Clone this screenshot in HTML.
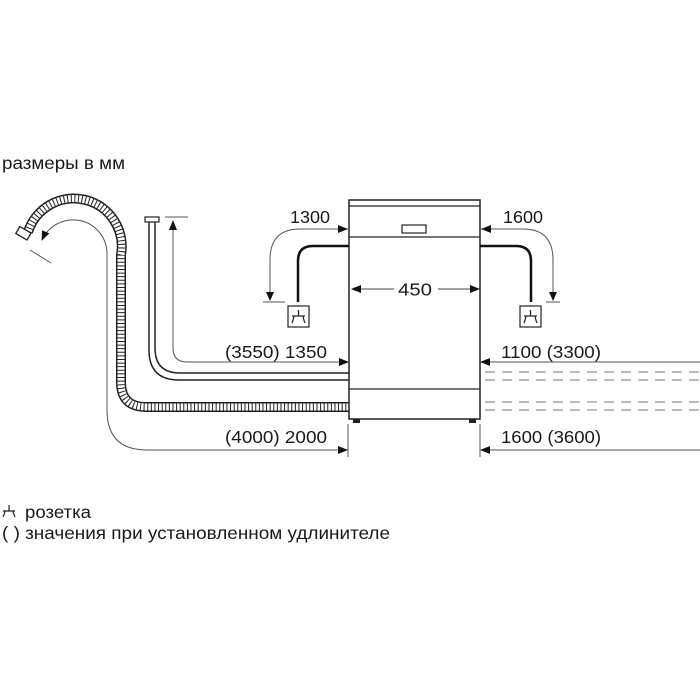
<!DOCTYPE html>
<html><head><meta charset="utf-8"><style>
html,body{margin:0;padding:0;background:#fff;}
svg{display:block;}
text{font-family:"Liberation Sans",Arial,sans-serif;fill:#1a1a1a;}
</style></head><body>
<svg width="700" height="700" viewBox="0 0 700 700" xmlns="http://www.w3.org/2000/svg">
<defs>
<marker id="ah" markerWidth="10" markerHeight="8" refX="9" refY="4" orient="auto" markerUnits="userSpaceOnUse">
<path d="M0,0 L10,4 L0,8 Z" fill="#111"/></marker>
</defs>
<text x="2" y="169" font-size="17.5" textLength="123" lengthAdjust="spacingAndGlyphs">размеры в мм</text>

<!-- drain hose corrugated -->
<g fill="none">
<path d="M28,232 A48,48 0 0 1 121,255 L121,382 Q121,407 146,407 L349,407" stroke="#222" stroke-width="10"/>
<path d="M28,232 A48,48 0 0 1 121,255 L121,382 Q121,407 146,407 L349,407" stroke="#fff" stroke-width="7"/>
<path d="M28,232 A48,48 0 0 1 121,255 L121,382 Q121,407 146,407 L349,407" stroke="#222" stroke-width="7" stroke-dasharray="1 2.6"/>
</g>
<rect x="17" y="229" width="13" height="8" fill="#fff" stroke="#222" stroke-width="1.3" transform="rotate(30 23 233)"/>
<!-- drain dimension -->
<path d="M348,450 L147,450 Q107,450 107,410 L107,252 A34,34 0 0 0 42,240" fill="none" stroke="#555" stroke-width="1" marker-end="url(#ah)"/>
<path d="M338,446 L348,450 L338,454 Z" fill="#111"/>
<line x1="30" y1="250" x2="51" y2="263" stroke="#555" stroke-width="1"/>

<!-- inlet hose -->
<rect x="145" y="217" width="14" height="5" fill="#fff" stroke="#222" stroke-width="1.2"/>
<path d="M149,222 L149,350 Q149,380 179,380 L349,380" fill="none" stroke="#222" stroke-width="1.5"/>
<path d="M155,222 L155,348 Q155,373 180,373 L349,373" fill="none" stroke="#222" stroke-width="1.5"/>
<path d="M173,229 L173,348 Q173,362 187,362 L348,362" fill="none" stroke="#555" stroke-width="1" marker-end="url(#ah)"/>
<path d="M173,230 L169,230 L173,220 L177,230 Z" fill="#111"/>
<line x1="165" y1="217" x2="188" y2="217" stroke="#555" stroke-width="1"/>
<text x="225" y="358" font-size="17.5" textLength="102" lengthAdjust="spacingAndGlyphs">(3550) 1350</text>
<text x="225" y="443" font-size="17.5" textLength="102" lengthAdjust="spacingAndGlyphs">(4000) 2000</text>

<!-- dishwasher -->
<rect x="349" y="200" width="131" height="219" fill="#fff" stroke="#222" stroke-width="1.5"/>
<line x1="349" y1="206" x2="480" y2="206" stroke="#222" stroke-width="1.3"/>
<line x1="349" y1="237" x2="480" y2="237" stroke="#222" stroke-width="1.3"/>
<line x1="349" y1="389" x2="480" y2="389" stroke="#222" stroke-width="1.3"/>
<rect x="402" y="225" width="24" height="8" fill="#fff" stroke="#222" stroke-width="1.2"/>
<rect x="353" y="419" width="7" height="4" fill="#222"/>
<rect x="469" y="419" width="7" height="4" fill="#222"/>
<line x1="394" y1="289" x2="352" y2="289" stroke="#444" stroke-width="1" marker-end="url(#ah)"/>
<line x1="438" y1="289" x2="479" y2="289" stroke="#444" stroke-width="1" marker-end="url(#ah)"/>
<text x="398" y="295.5" font-size="17.5" textLength="34" lengthAdjust="spacingAndGlyphs">450</text>

<!-- cables -->
<path d="M349,246 L313,246 Q298,246 298,261 L298,302" fill="none" stroke="#111" stroke-width="2.5"/>
<path d="M480,246 L516,246 Q531,246 531,261 L531,302" fill="none" stroke="#111" stroke-width="2.5"/>
<g fill="none" stroke="#222" stroke-width="1.2">
<rect x="288" y="306" width="21" height="21"/>
<rect x="520" y="306" width="21" height="21"/>
<path d="M298.5,310 L298.5,316 M292,316 L305,316 M294,316 Q293,321 292,323 M303,316 Q304,321 305,323"/>
<path d="M530.5,310 L530.5,316 M524,316 L537,316 M526,316 Q525,321 524,323 M535,316 Q536,321 537,323"/>
</g>
<!-- 1300 / 1600 arrows -->
<path d="M348,229 L300,229 Q270,229 270,260 L270,297" fill="none" stroke="#555" stroke-width="1"/>
<path d="M338,225 L348,229 L338,233 Z M266,292 L274,292 L270,301 Z" fill="#111"/>
<line x1="263" y1="302" x2="285" y2="302" stroke="#555" stroke-width="1"/>
<text x="290" y="223" font-size="17.5" textLength="40" lengthAdjust="spacingAndGlyphs">1300</text>
<path d="M481,229 L523,229 Q553,229 553,260 L553,297" fill="none" stroke="#555" stroke-width="1"/>
<path d="M491,225 L481,229 L491,233 Z M549,292 L557,292 L553,301 Z" fill="#111"/>
<line x1="546" y1="302" x2="560" y2="302" stroke="#555" stroke-width="1"/>
<text x="503" y="223" font-size="17.5" textLength="40" lengthAdjust="spacingAndGlyphs">1600</text>

<!-- right side -->
<line x1="700" y1="362" x2="481" y2="362" stroke="#555" stroke-width="1" marker-end="url(#ah)"/>
<text x="501" y="358" font-size="17.5" textLength="100" lengthAdjust="spacingAndGlyphs">1100 (3300)</text>
<g stroke="#777" stroke-width="1" stroke-dasharray="10 7">
<line x1="485" y1="372" x2="700" y2="372"/>
<line x1="485" y1="380" x2="700" y2="380"/>
<line x1="485" y1="402" x2="700" y2="402"/>
<line x1="485" y1="410" x2="700" y2="410"/>
</g>
<line x1="348" y1="424" x2="348" y2="457" stroke="#555" stroke-width="1"/>
<line x1="480" y1="424" x2="480" y2="457" stroke="#555" stroke-width="1"/>
<line x1="700" y1="450" x2="481" y2="450" stroke="#555" stroke-width="1" marker-end="url(#ah)"/>
<text x="501" y="443" font-size="17.5" textLength="100" lengthAdjust="spacingAndGlyphs">1600 (3600)</text>

<!-- legend -->
<path d="M9,505 L9,511 M3,511 L15,511 M5,511 Q4.5,514 3,517 M13,511 Q13.5,514 15,517" fill="none" stroke="#222" stroke-width="1.2"/>
<text x="25" y="518" font-size="17.5" textLength="66" lengthAdjust="spacingAndGlyphs">розетка</text>
<text x="2" y="539" font-size="17.5" textLength="388" lengthAdjust="spacingAndGlyphs">( ) значения при установленном удлинителе</text>
</svg>
</body></html>
